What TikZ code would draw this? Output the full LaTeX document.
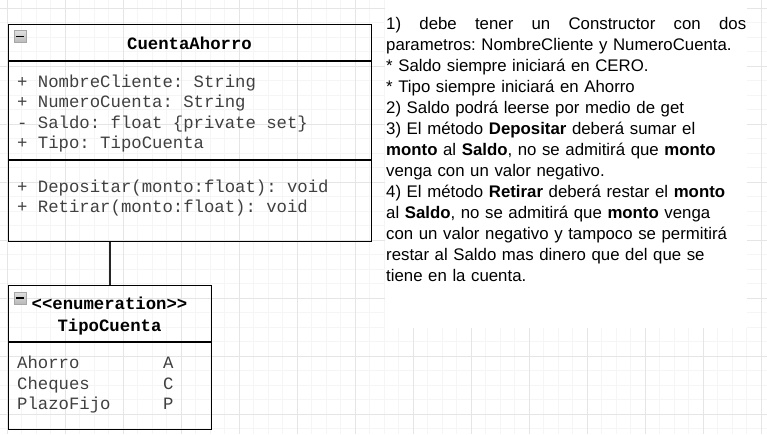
\documentclass[tikz,border=0pt]{standalone}
\usepackage{fontspec}
\setmainfont{Liberation Sans}
\setmonofont{Liberation Mono}
\usetikzlibrary{positioning}

\tikzset{
  gridmenor/.style={draw=gray!8, line width=0.7pt},
  gridmayor/.style={draw=gray!20, line width=0.7pt},
  clase/.style={draw=black, line width=1.4pt, anchor=north west, inner sep=0pt},
  separa/.style={black, line width=1.4pt},
  conector/.style={black!85, line width=1.6pt},
  miembro/.style={anchor=base west, inner sep=0pt, text=black!75,
    font=\ttfamily\fontsize{17.3}{20.5}\selectfont},
  titulo/.style={anchor=base, inner sep=0pt,
    font=\ttfamily\bfseries\fontsize{17.3}{20.5}\selectfont},
  icono/.style={draw=gray!70, line width=0.6pt, minimum size=12pt, inner sep=0pt,
    top color=gray!25, bottom color=gray!55,
    path picture={\draw[black, line width=1.3pt]
      ([xshift=2pt]path picture bounding box.west) --
      ([xshift=-2pt]path picture bounding box.east);}},
  notas/.style={anchor=north west, inner sep=0pt, text width=362pt, align=left,
    font=\fontsize{16.8}{21}\selectfont\frenchspacing}
}

\begin{document}
\begin{tikzpicture}[x=1pt,y=-1pt]
  \useasboundingbox (0,0) rectangle (767,434);
  \fill[white] (0,0) rectangle (767,434);

  % fondo cuadriculado
  \foreach \i in {0,...,53}
    \draw[gridmenor] ({-7.2+14.5*\i},0) -- ++(0,434);
  \foreach \j in {0,...,30}
    \draw[gridmenor] (0,{-6.2+14.5*\j}) -- ++(767,0);
  \foreach \i in {0,...,13}
    \draw[gridmayor] ({7.3+58*\i},0) -- ++(0,434);
  \foreach \j in {0,...,7}
    \draw[gridmayor] (0,{8.3+58*\j}) -- ++(767,0);
  \fill[white] (385,0) rectangle (747,328);

  % clase CuentaAhorro
  \node[clase, minimum width=363pt, minimum height=217pt] (cuenta) at (8,24) {};
  \draw[separa] ([yshift=-37pt]cuenta.north west) -- ([yshift=-37pt]cuenta.north east);
  \draw[separa] ([yshift=-136pt]cuenta.north west) -- ([yshift=-136pt]cuenta.north east);
  \node[icono] (iconoCuenta) at (20.3,36.7) {};
  \node[titulo] (nomCuenta) at (189.5,49) {CuentaAhorro};
  \node[miembro] (atr1) at (17,87.3) {+ NombreCliente: String};
  \node[miembro] (atr2) at (17,107.8) {+ NumeroCuenta: String};
  \node[miembro] (atr3) at (17,128.3) {- Saldo: float \{private set\}};
  \node[miembro] (atr4) at (17,148.8) {+ Tipo: TipoCuenta};
  \node[miembro] (met1) at (17,192.3) {+ Depositar(monto:float): void};
  \node[miembro] (met2) at (17,212.8) {+ Retirar(monto:float): void};

  % enumeracion TipoCuenta
  \node[clase, minimum width=203pt, minimum height=144pt] (tipo) at (8,285) {};
  \draw[separa] ([yshift=-57pt]tipo.north west) -- ([yshift=-57pt]tipo.north east);
  \node[icono] (iconoTipo) at (20.3,298) {};
  \node[titulo] (esteTipo) at (109.5,309.3) {<{}<enumeration>{}>};
  \node[titulo] (nomTipo) at (109.5,331) {TipoCuenta};
  \node[miembro] (val1) at (17,368.5) {Ahorro};
  \node[miembro] (val2) at (17,389) {Cheques};
  \node[miembro] (val3) at (17,409.5) {PlazoFijo};
  \node[miembro] (let1) at (163,368.5) {A};
  \node[miembro] (let2) at (163,389) {C};
  \node[miembro] (let3) at (163,409.5) {P};

  \draw[conector] (tipo.north |- cuenta.south) -- (tipo.north);

  % requisitos
  \node[notas] (notas) at (386,14.6) {%
    \strut\hbox to 360pt{1)\hfill debe\hfill tener\hfill un\hfill Constructor\hfill con\hfill dos}\\
    parametros: NombreCliente y NumeroCuenta.\\
    {*} Saldo siempre iniciará en CERO.\\
    {*} Tipo siempre iniciará en Ahorro\\
    2) Saldo podrá leerse por medio de get\\
    3) El método \textbf{Depositar} deberá sumar el\\
    \textbf{monto} al \textbf{Saldo}, no se admitirá que \textbf{monto}\\
    venga con un valor negativo.\\
    4) El método \textbf{Retirar} deberá restar el \textbf{monto}\\
    al \textbf{Saldo}, no se admitirá que \textbf{monto} venga\\
    con un valor negativo y tampoco se permitirá\\
    restar al Saldo mas dinero que del que se\\
    tiene en la cuenta.};
\end{tikzpicture}
\end{document}
